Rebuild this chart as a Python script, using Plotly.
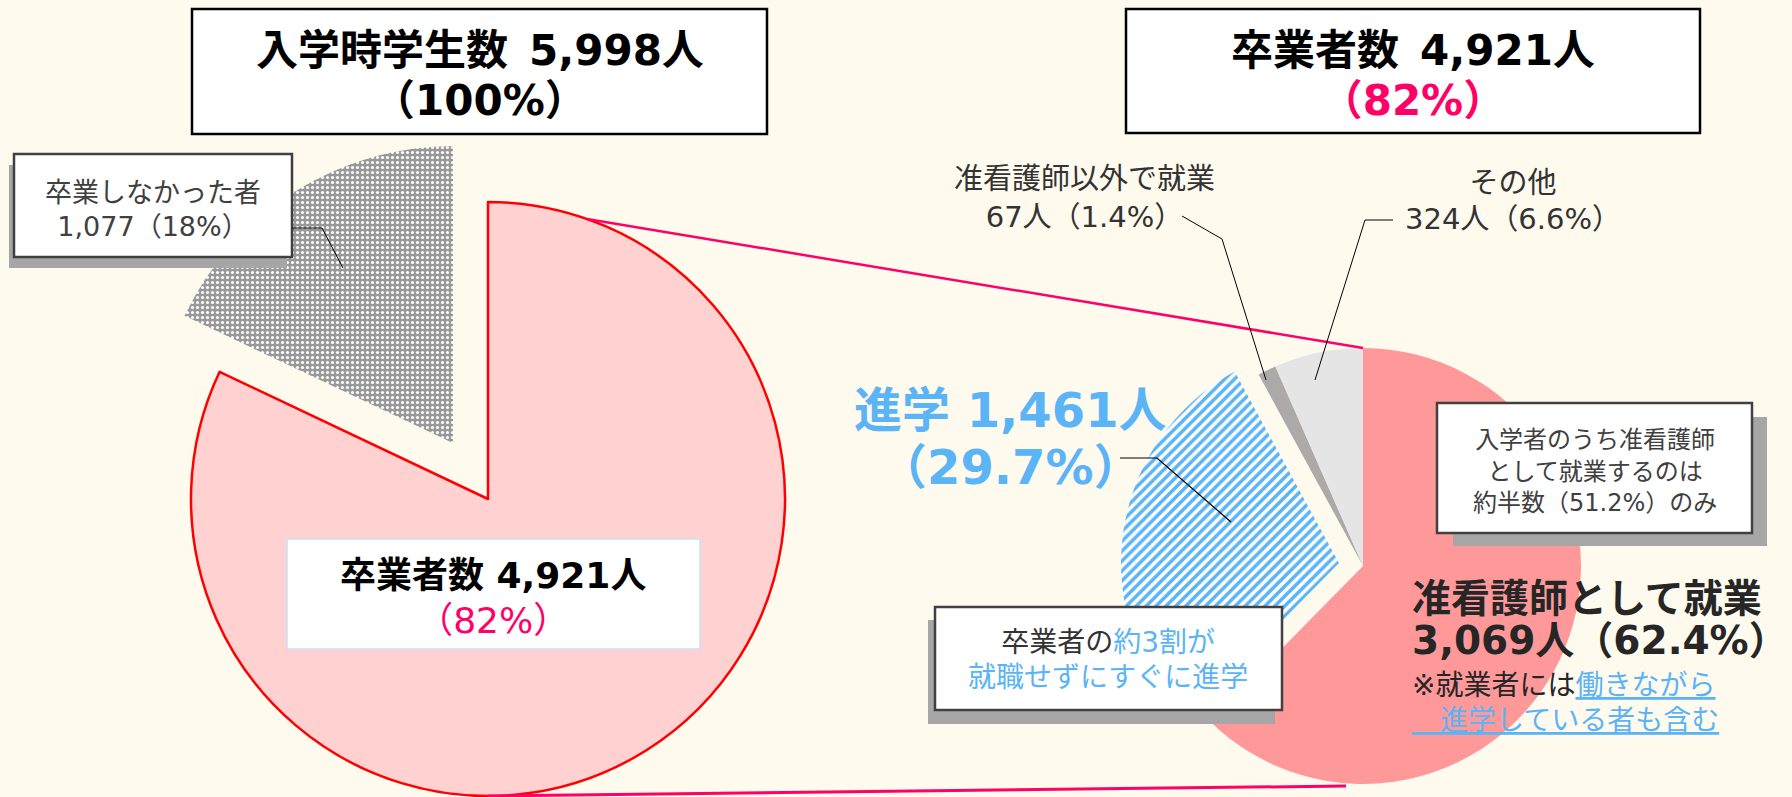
import plotly.graph_objects as go

W, H = 1792, 797

# ---------------- data ----------------
left_labels = ["卒業者数", "卒業しなかった者"]
left_values = [4921, 1077]

right_labels = ["准看護師として就業", "進学", "准看護師以外で就業", "その他"]
right_values = [3069, 1461, 67, 324]
right_pct = [62.4, 29.7, 1.4, 6.6]

total_students = 5998
graduates = 4921
nurse_share_of_entrants = 51.2

# ---------------- helpers ----------------
FONT = "DejaVu Sans, Noto Sans CJK JP"
BG = "#FEFAEE"
PINK_TXT = "#FF0066"
BLUE = "#5BB4F6"
DARK = "#262626"
GREY_TXT = "#404040"
TRANSP = "rgba(0,0,0,0)"


def fx(x):
    return x / W


def fy(y):
    return 1 - y / H


def dom(cx, cy, r):
    return dict(x=[max(0, (cx - r) / W), min(1, (cx + r) / W)],
                y=[max(0, 1 - (cy + r) / H), min(1, 1 - (cy - r) / H)])


fig = go.Figure()

# ---- left pie: main (graduates) slice, red outline ----
fig.add_trace(go.Pie(
    labels=left_labels, values=left_values, sort=False, direction="clockwise",
    rotation=0, domain=dom(488, 499, 297), textinfo="none", hoverinfo="skip",
    showlegend=False,
    marker=dict(colors=["#FFD1D1", TRANSP],
                line=dict(color=["#FF0000", TRANSP], width=[2.5, 0])),
))
# ---- left pie: exploded non-graduate slice (dotted pattern) ----
fig.add_trace(go.Pie(
    labels=left_labels, values=left_values, sort=False, direction="clockwise",
    rotation=0, domain=dom(453, 443, 297), textinfo="none", hoverinfo="skip",
    showlegend=False,
    marker=dict(colors=[TRANSP, "#9A9A9A"],
                line=dict(width=0),
                pattern=dict(shape=["", "."], fgcolor="#FFFFFF",
                             bgcolor=[TRANSP, "#999999"],
                             size=5, solidity=0.3)),
))

# ---- right pie: main slices ----
fig.add_trace(go.Pie(
    labels=right_labels, values=right_values, sort=False, direction="clockwise",
    rotation=0, domain=dom(1363, 566, 218), textinfo="none", hoverinfo="skip",
    showlegend=False,
    marker=dict(colors=["#FF9999", TRANSP, "#ADA9A9", "#E5E5E5"],
                line=dict(width=0)),
))
# ---- right pie: exploded further-study slice (hatched) ----
fig.add_trace(go.Pie(
    labels=right_labels, values=right_values, sort=False, direction="clockwise",
    rotation=0, domain=dom(1339, 563, 218), textinfo="none", hoverinfo="skip",
    showlegend=False,
    marker=dict(colors=[TRANSP, "#FFFFFF", TRANSP, TRANSP],
                line=dict(width=0),
                pattern=dict(shape=["", "/", "", ""], fgcolor=BLUE,
                             bgcolor=[TRANSP, "#FFFFFF", TRANSP, TRANSP],
                             size=7, solidity=0.5)),
))

shapes = []


def rect(x0, y0, x1, y1, fill, line_color=None, lw=0):
    shapes.append(dict(type="rect", xref="paper", yref="paper",
                       x0=fx(x0), x1=fx(x1), y0=fy(y1), y1=fy(y0),
                       fillcolor=fill,
                       line=dict(color=line_color or TRANSP, width=lw)))


def path(points, color="#000000", lw=1):
    d = "M " + " L ".join(f"{fx(x)},{fy(y)}" for x, y in points)
    shapes.append(dict(type="path", xref="paper", yref="paper", path=d,
                       line=dict(color=color, width=lw)))


# connector lines between the pies
path([(587, 219), (1363, 348)], color=PINK_TXT, lw=2.5)
path([(488, 796), (1346, 786)], color=PINK_TXT, lw=3)

# title boxes
rect(192, 9, 767, 134, "#FFFFFF", "#000000", 2.5)
rect(1126, 9, 1700, 133, "#FFFFFF", "#000000", 2.5)

# non-graduates label box + shadow + leader
rect(9, 165, 287, 268, "#A6A6A6")
rect(14, 154, 292, 257, "#FFFFFF", GREY_TXT, 2.5)
path([(292, 228), (322, 228), (343, 268)], lw=1)

# label box inside the left pie
rect(287, 539, 700, 649, "#FFFFFF", "#C9DFF5", 1.5)

# right-pie leaders
path([(1182, 216), (1222, 239), (1266, 380)], lw=1)
path([(1393, 220), (1365, 220), (1315, 380)], lw=1)
path([(1120, 458), (1157, 458), (1231, 522)], lw=1.2)

# note boxes with shadows
rect(1453, 417, 1767, 546, "#A6A6A6")
rect(1437, 403, 1752, 533, "#FFFFFF", GREY_TXT, 2.5)
rect(928, 620, 1275, 724, "#A6A6A6")
rect(935, 607, 1282, 710, "#FFFFFF", GREY_TXT, 2.5)

annotations = []


def block(lines, x, y, size, spacing, color, bold=False, xanchor="center"):
    """Multi-line text block; 'spacing' is the line pitch in px."""
    base = spacing / 1.3
    inner = "<br>".join(f'<span style="font-size:{size}px">{ln}</span>' for ln in lines)
    annotations.append(dict(
        text=inner, x=fx(x), y=fy(y), xref="paper", yref="paper",
        xanchor=xanchor, yanchor="middle", showarrow=False,
        align="left" if xanchor == "left" else "center",
        font=dict(family=FONT, size=base, color=color,
                  weight="bold" if bold else "normal")))


def col(s, c):
    return f'<span style="color:{c}">{s}</span>'


def ul(s):
    return f'<span style="color:{BLUE};text-decoration:underline">{s}</span>'


block([f"入学時学生数\u2002{total_students:,}人", "（100%）"],
      480, 75, 42, 50, "#000000", True)
block([f"卒業者数\u2002{graduates:,}人",
       col(f"（{round(graduates / total_students * 100)}%）", PINK_TXT)],
      1413, 75, 42, 50, "#000000", True)

block(["卒業しなかった者",
       f"{left_values[1]:,}（{round(left_values[1] / total_students * 100)}%）"],
      153, 209, 27, 34, GREY_TXT)

block([f"<b>卒業者数 {left_values[0]:,}人</b>",
       col(f"（{round(left_values[0] / total_students * 100)}%）", PINK_TXT)],
      493, 598, 36, 45, "#000000")

block(["准看護師以外で就業", f"{right_values[2]}人（{right_pct[2]}%）"],
      1084, 198, 29, 38, "#333333")
block(["その他", f"{right_values[3]}人（{right_pct[3]}%）"],
      1513, 201, 29, 36, "#333333")

block([f"進学 {right_values[1]:,}人", f"（{right_pct[1]}%）"],
      1010, 438, 48, 57, BLUE, True)

block(["入学者のうち准看護師", "として就業するのは",
       f"約半数（{nurse_share_of_entrants}%）のみ"],
      1595, 471, 24, 31.5, GREY_TXT)

block(["准看護師として就業", f"{right_values[0]:,}人（{right_pct[0]}%）"],
      1410, 619, 39, 42, DARK, True, "left")
block(["※就業者には" + ul("働きながら"), ul("　進学している者も含む")],
      1410, 703, 28, 35, DARK, False, "left")

block(["卒業者の" + col("約3割が", BLUE), col("就職せずにすぐに進学", BLUE)],
      1108, 660, 28, 35, "#333333")

fig.update_layout(
    width=W, height=H, margin=dict(l=0, r=0, t=0, b=0),
    paper_bgcolor=BG, plot_bgcolor=BG,
    shapes=shapes, annotations=annotations, showlegend=False,
    font=dict(family=FONT),
)

fig.write_html("out.html", config={"displayModeBar": False},
               post_script="document.body.style.margin='0';document.body.style.background='" + BG + "';")
